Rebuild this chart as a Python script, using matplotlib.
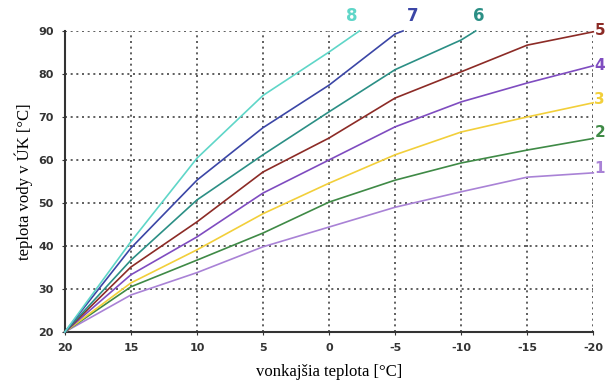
import matplotlib
matplotlib.use("Agg")
import matplotlib.pyplot as plt

x_full = [20, 15, 10, 5, 0, -5, -10, -15, -20]

c1 = [20, 28.6, 33.8, 39.8, 44.4, 49.0, 52.6, 56.0, 57.0]
c2 = [20, 30.5, 36.7, 43.0, 50.2, 55.3, 59.3, 62.3, 65.0]
c3 = [20, 31.4, 39.1, 47.5, 54.6, 61.2, 66.5, 70.0, 73.3]
c4 = [20, 33.3, 42.1, 52.3, 60.0, 67.7, 73.5, 77.9, 81.9]
c5 = [20, 35.1, 45.6, 57.2, 65.1, 74.4, 80.5, 86.7, 89.8]
x6 = [20, 15, 10, 5, 0, -5, -10, -11.1]
c6 = [20, 36.7, 50.7, 61.2, 71.2, 81.0, 87.9, 90.0]
x7 = [20, 15, 10, 5, 0, -5, -5.6]
c7 = [20, 39.5, 55.3, 67.5, 77.4, 89.3, 90.0]
x8 = [20, 15, 10, 5, 0, -2.3]
c8 = [20, 41.0, 60.4, 75.0, 85.1, 90.0]

names = ["1", "2", "3", "4", "5", "6", "7", "8"]
colors = ["#a982d6", "#3f8a46", "#f2cf3a", "#7f4cc0", "#8c2b26",
          "#2b8f85", "#3b46a6", "#5fd6c8"]

x_ticks = [20, 15, 10, 5, 0, -5, -10, -15, -20]
y_ticks = [20, 30, 40, 50, 60, 70, 80, 90]

fig = plt.figure(figsize=(6.06, 3.82), dpi=100)
ax = fig.add_axes([0.107, 0.131, 0.872, 0.788])

series = [(x_full, c1), (x_full, c2), (x_full, c3), (x_full, c4), (x_full, c5),
          (x6, c6), (x7, c7), (x8, c8)]
for (xs, ys), col in zip(series, colors):
    ax.plot(xs, ys, color=col, lw=1.2, solid_joinstyle="round", zorder=3, clip_on=False)

ax.set_xlim(20, -20)
ax.set_ylim(20, 90)
ax.set_xticks(x_ticks)
ax.set_xticklabels([str(v) for v in x_ticks])
ax.set_yticks(y_ticks)
ax.grid(True, color="#444444", linestyle=(0, (1.2, 2.2)), linewidth=1.2)
for s in ["top", "right"]:
    ax.spines[s].set_visible(False)
for s in ["left", "bottom"]:
    ax.spines[s].set_color("#333333")
    ax.spines[s].set_linewidth(1.5)
ax.tick_params(axis="both", labelsize=8, length=2, color="#333333", pad=6)
for lab in ax.get_xticklabels() + ax.get_yticklabels():
    lab.set_fontweight("bold")
    lab.set_color("#333333")

ax.set_xlabel("vonkajšia teplota [°C]", fontsize=12, family="Liberation Serif", labelpad=8)
ax.set_ylabel("teplota vody v ÚK [°C]", fontsize=12, family="Liberation Serif", labelpad=4)

# curve labels at the right edge
right_ys = [58, 66.3, 74, 82, 90]
for i, yv in enumerate(right_ys):
    fig.text(0.9985, ax.transData.transform((0, yv))[1] / fig.bbox.height, names[i],
             color=colors[i], fontsize=11, fontweight="bold", ha="right", va="center")
top_xs = [(-11.3, 5), (-6.3, 6), (-1.75, 7)]
for xv, idx in top_xs:
    ax.text(xv, 93.5, names[idx], color=colors[idx], fontsize=12, fontweight="bold",
            ha="center", va="center", clip_on=False)

fig.savefig("out.png", dpi=100)
